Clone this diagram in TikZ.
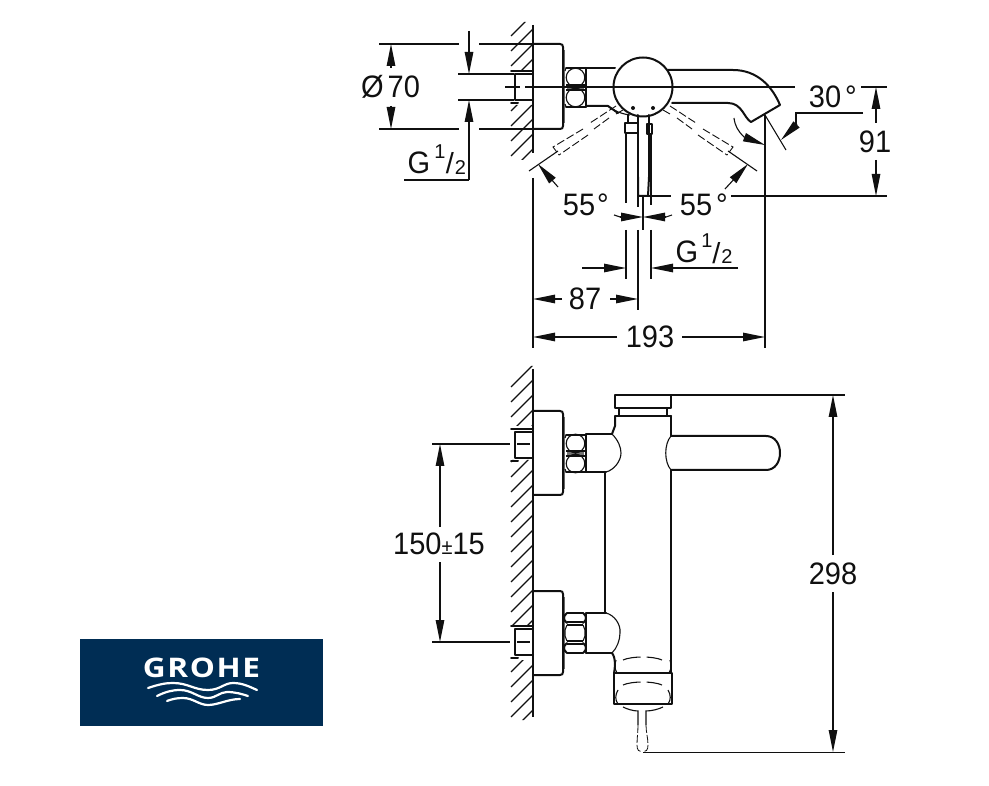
\documentclass[tikz,border=0pt]{standalone}
\usepackage{fontspec}
\setmainfont{Liberation Sans}
\newfontfamily\logofont{Open Sans}
\usetikzlibrary{arrows.meta}
\definecolor{ink}{HTML}{101010}
\definecolor{logoblue}{HTML}{002D54}
\tikzset{
  x=1pt,y=-1pt,
  heavy/.style={line width=2pt,draw=ink,line join=round,line cap=round},
  fine/.style={line width=1.1pt,draw=ink},
  hair/.style={line width=0.8pt,draw=ink},
  dashline/.style={line width=0.9pt,draw=ink,dash pattern=on 8pt off 3pt},
  dimarrow/.style={fine,-{Triangle[length=22pt,width=8.5pt]}},
  label/.style={inner sep=0pt,font=\fontsize{29}{29}\selectfont,text=ink,yscale=1.07,transform shape},
  smallnum/.style={inner sep=0pt,font=\fontsize{20}{20}\selectfont,text=ink},
  slashmark/.style={inner sep=0pt,font=\fontsize{29}{29}\selectfont,text=ink},
  wave/.style={draw=white,line width=2.2pt,line cap=round},
}
% nut seen with two faces; #1 centre, #2 half height
\newcommand{\twofacenut}[2]{%
 \begin{scope}[shift={(0,#1)}]
  \fill[black!55] (567,-2) rectangle (584,2);
  \draw[heavy] (566,-#2) -- (586,-#2) (566,#2) -- (586,#2);
  \draw[fine] (566,-#2) -- (565,-#2+3) (566,#2) -- (565,#2-3);
  \draw[fine] (575.5,-10) circle (9.3) (575.5,10) circle (9.3);
  \draw[fine] (566,-2.5) -- (585,-2.5) (566,2.5) -- (585,2.5);
 \end{scope}}
% nut seen with three faces
\newcommand{\threefacenut}[1]{%
 \begin{scope}[shift={(0,#1)}]
  \draw[heavy] (567,-20) -- (583,-20) (567,20) -- (583,20);
  \draw[heavy] (567,-20) .. controls (563,-17) and (563,-13) .. (567,-10)
     (583,-20) .. controls (587,-17) and (587,-13) .. (583,-10)
     (567,20) .. controls (563,17) and (563,13) .. (567,10)
     (583,20) .. controls (587,17) and (587,13) .. (583,10);
  \draw[fine] (567,-11) -- (583,-11) (567,-8) -- (583,-8) (567,11) -- (583,11) (567,8) -- (583,8);
  \draw[fine] (567,-8) -- (565,-3) -- (565,3) -- (567,8);
  \draw[fine] (583,-8) -- (585,-3) -- (585,3) -- (583,8);
 \end{scope}}
\newcommand{\stubpart}[1]{%
 \begin{scope}[shift={(0,#1)}]
  \draw[heavy] (533,-13) -- (515,-13) -- (515,13) -- (533,13);
  \draw[heavy] (511,-16) -- (533,-16);
  \draw[heavy] (511,16) -- (518,16);
 \end{scope}}
\newcommand{\flange}[2]{%
  \draw[heavy] (533,#1) -- (560,#1) .. controls (562,#1) and (563,#1+1) .. (563,#1+3)
     -- (563,#2-3) .. controls (563,#2-1) and (562,#2) .. (560,#2) -- (533,#2);
  \draw[line width=1.2pt,draw=black!60] (564.5,#1+6) -- (564.5,#2-6);}
\begin{document}
\begin{tikzpicture}
\useasboundingbox (0,0) rectangle (989,786);
\fill[white] (0,0) rectangle (989,786);

% --- hatching, both walls
\begin{scope}
 \clip (505,22) rectangle (534,70) (505,105) rectangle (534,160);
 \foreach \yy in {36,51,...,171} \draw[fine] (511,\yy) -- (533,\yy-22);
\end{scope}
\begin{scope}
 \clip (505,366) rectangle (534,426) (505,460) rectangle (534,626) (505,660) rectangle (534,720);
 \foreach \yy in {387,402,...,732} \draw[fine] (511,\yy) -- (533,\yy-22);
\end{scope}

% --- top view: wall and mounting
\draw[fine] (533,25) -- (533,153) (533,178) -- (533,348);
\flange{44}{129}
\stubpart{87}
\twofacenut{87.5}{19.5}
\draw[fine] (505,87) -- (520,87) (525,87) -- (795,87);

% circle, stem, spout
\draw[heavy] (586,68) -- (615,68);
\draw[heavy] (586,68) -- (586,107);
\draw[heavy] (586,106) -- (608,106) -- (618,113);
\draw[fine] (608,106) .. controls (614,111) and (622,114) .. (630,115);
\draw[heavy] (643,87) circle (29.5);
\fill[ink] (633,108) circle (2) (653,108) circle (2);
\draw[heavy] (668,70) -- (733,70) .. controls (757,70) and (772,86) .. (780,105)
   -- (751,122) .. controls (744,118) and (742,103) .. (728,103) -- (672,103);
% body
\draw[heavy] (628,115) -- (628,123) (638,115) -- (638,177) (649,115) -- (649,177);
\draw[heavy] (638,177) -- (638,196) -- (648,196) -- (649,177);
\draw[heavy] (625,123) rectangle (638,133);
\draw[heavy] (647,124) rectangle (652,134);
\draw[fine] (626,133) -- (626,203) (651,134) -- (651,205) (638,196) -- (638,207);
\draw[fine] (643,196) -- (643,230);

% dashed handles
\draw[dashline] (670,106) -- (696,123) (703,129) -- (733,147) -- (727,155);
\draw[dashline] (663,110) -- (670,114) (677,118) -- (692,129) (698,135) -- (727,155);
\draw[fine] (728,151) -- (757,171);
\draw[dashline] (616,106) -- (590,123) (583,129) -- (553,147) -- (559,155);
\draw[dashline] (623,110) -- (616,114) (609,118) -- (594,129) (588,135) -- (559,155);
\draw[fine] (558,151) -- (529,171);
\coordinate (ra0) at (725,189); \coordinate (ra1) at (748,164);
\coordinate (la0) at (558,187); \coordinate (la1) at (538,164);
\draw[dimarrow] (ra0) -- (ra1);
\draw[dimarrow] (la0) -- (la1);

% top-left dimensions
\draw[fine] (379,44) -- (459,44) (479,44) -- (533,44);
\draw[fine] (379,129) -- (459,129) (479,129) -- (533,129);
\draw[fine] (458,74) -- (514,74) (458,100) -- (514,100);
\coordinate (d1) at (391,68); \coordinate (d2) at (391,44);
\coordinate (d3) at (391,106); \coordinate (d4) at (391,129);
\draw[dimarrow] (d1) -- (d2);
\draw[dimarrow] (d3) -- (d4);
\node[label] (dia) at (390.5,87) {Ø\kern4pt 70};
\coordinate (g1) at (469,31); \coordinate (g2) at (469,74);
\coordinate (g3) at (469,180); \coordinate (g4) at (469,100);
\coordinate (g5) at (404,180);
\draw[dimarrow] (g1) -- (g2);
\draw[dimarrow] (g3) -- (g4);
\draw[fine] (g5) -- (g3);
\node[label] (gA) at (419,163) {G};
\node[smallnum] (gAa) at (440,152) {1};
\node[slashmark] (gAb) at (450,163) {/};
\node[smallnum] (gAc) at (460.5,168) {2};

% angle labels
\node[label] (a55l) at (579,205) {55};
\node[label] (a55ld) at (603,205) {°};
\node[label] (a55r) at (696,205) {55};
\node[label] (a55rd) at (722,205) {°};
\draw[fine] (648,196) -- (671,196) (731,196) -- (887,196);

% central small dims
\coordinate (c1) at (614,215); \coordinate (c2) at (620,217); \coordinate (c3) at (643,217);
\coordinate (c4) at (672,215); \coordinate (c5) at (666,217);
\draw[fine] (c1) -- (c2); \draw[dimarrow] (c2) -- (c3);
\draw[fine] (c4) -- (c5); \draw[dimarrow] (c5) -- (c3);
\draw[fine] (626,230) -- (626,279) (651,230) -- (651,279) (638,230) -- (638,310);
\coordinate (h1) at (582,268); \coordinate (h2) at (626,268);
\coordinate (h3) at (738,268); \coordinate (h4) at (651,268);
\draw[dimarrow] (h1) -- (h2);
\draw[dimarrow] (h3) -- (h4);
\node[label] (gB) at (687,252) {G};
\node[smallnum] (gBa) at (707,241) {1};
\node[slashmark] (gBb) at (716.5,253) {/};
\node[smallnum] (gBc) at (727,257) {2};

% 87
\coordinate (e0) at (562,299); \coordinate (e1) at (533,299);
\coordinate (e2) at (610,299); \coordinate (e3) at (638,299);
\draw[dimarrow] (e0) -- (e1);
\draw[dimarrow] (e2) -- (e3);
\node[label] (n87) at (585,299) {87};
% 193
\coordinate (f0) at (617,337); \coordinate (f1) at (533,337);
\coordinate (f2) at (682,337); \coordinate (f3) at (765,337);
\draw[dimarrow] (f0) -- (f1);
\draw[dimarrow] (f2) -- (f3);
\node[label] (n193) at (650,337) {193};
\draw[fine] (765,115) -- (765,348);

% 30 deg
\node[label] (n30) at (825,97) {30};
\node[label] (n30d) at (851,97) {°};
\draw[fine] (863,113) -- (796,113) -- (796,125);
\coordinate (t0) at (797,124); \coordinate (t1) at (781,140);
\draw[dimarrow] (t0) -- (t1);
\draw[fine] (765,115) -- (786,150);
\draw[fine] (734,118) .. controls (735,126) and (738,131) .. (744,137);
\coordinate (t2) at (744,137); \coordinate (t3) at (765,145);
\draw[dimarrow] (t2) -- (t3);
% 91
\draw[fine] (861,87) -- (887,87);
\coordinate (k0) at (876,123); \coordinate (k1) at (876,87);
\coordinate (k2) at (876,160); \coordinate (k3) at (876,196);
\draw[dimarrow] (k0) -- (k1);
\draw[dimarrow] (k2) -- (k3);
\node[label] (n91) at (875,142) {91};

% --- front view
\draw[fine] (533,369) -- (533,717);
\flange{411}{495}
\flange{591}{675}
\stubpart{445}
\stubpart{642}
\twofacenut{453.5}{18.5}
\threefacenut{633}
% upper stem
\draw[heavy] (586,434) -- (612,434) (586,434) -- (586,472) (586,472) -- (606,472);
\draw[fine] (612,434) .. controls (618,440) and (621,447) .. (621,453) .. controls (621,461) and (614,470) .. (606,472);
% lower stem
\draw[heavy] (586,613) -- (586,653) (586,613) -- (606,613) (586,653) -- (612,653);
\draw[fine] (606,613) .. controls (614,615) and (621,624) .. (620,633) .. controls (620,640) and (617,648) .. (612,653);
% body
\draw[heavy] (605,472) -- (605,613);
\draw[heavy] (671,416) -- (671,436) (671,470) -- (671,673);
\draw[heavy] (615,395) rectangle (671,408);
\draw[heavy] (619,408) -- (619,416) (667,408) -- (667,416);
\draw[heavy] (615,416) -- (671,416);
\draw[heavy] (615,416) -- (615,426) -- (612,434);
% handle
\draw[heavy] (671,436) -- (766,436) .. controls (775,436) and (780,444) .. (780,453)
   .. controls (780,462) and (775,470) .. (766,470) -- (671,470);
\draw[fine] (671,436) .. controls (664,444) and (664,462) .. (671,470);
% bottom
\draw[heavy] (612,653) .. controls (616,658) and (615,668) .. (614,673);
\draw[line width=2.6pt,draw=ink] (614,673) -- (672,673);
\draw[heavy] (614,673) -- (614,704) -- (672,704) -- (672,673);
\draw[fine,dash pattern=on 18pt off 6pt] (623,660) .. controls (632,656) and (653,656) .. (662,660);
\draw[fine,dash pattern=on 18pt off 6pt] (623,685) .. controls (632,681) and (653,681) .. (662,685);
\draw[fine] (617,673) .. controls (614,668) and (615,664) .. (616,660);
\draw[fine] (669,673) .. controls (672,668) and (671,664) .. (670,660);
\draw[fine] (618,690) .. controls (615,695) and (615,700) .. (618,704);
\draw[fine] (668,690) .. controls (671,695) and (671,700) .. (668,704);
\draw[fine] (623,707) .. controls (627,709) and (633,711) .. (638,711) -- (638,725);
\draw[fine] (663,707) .. controls (659,709) and (652,711) .. (646,711) -- (646,725);
\draw[hair,dash pattern=on 8pt off 2pt] (638,725) .. controls (638,732) and (637,738) .. (637,745) .. controls (637,750) and (639,752) .. (642,752);
\draw[hair,dash pattern=on 8pt off 2pt] (646,725) .. controls (646,732) and (648,738) .. (648,745) .. controls (648,750) and (646,752) .. (643,752);

% front dims
\draw[fine] (432,444) -- (510,444) (517,444) -- (530,444);
\draw[fine] (432,642) -- (510,642) (517,642) -- (530,642);
\coordinate (p0) at (440,527); \coordinate (p1) at (440,444);
\coordinate (p2) at (440,562); \coordinate (p3) at (440,642);
\draw[dimarrow] (p0) -- (p1);
\draw[dimarrow] (p2) -- (p3);
\node[label] (n150) at (439,544) {150{\fontsize{20}{20}\selectfont ±}15};
\draw[fine] (671,395) -- (845,395);
\draw[fine] (643,752.5) -- (845,752.5);
\coordinate (q0) at (833,555); \coordinate (q1) at (833,395);
\coordinate (q2) at (833,592); \coordinate (q3) at (833,752);
\draw[dimarrow] (q0) -- (q1);
\draw[dimarrow] (q2) -- (q3);
\node[label] (n298) at (833,574) {298};

% --- logo
\fill[logoblue] (80,639) rectangle (323,726);
\node[inner sep=0pt,text=white,xscale=1.17,transform shape] (brand) at (201.5,667.5)
  {\logofont\fontsize{27}{27}\selectfont\addfontfeature{LetterSpace=5}\bfseries GROHE};
\draw[wave] (148,688) .. controls (160,684) and (166,683) .. (173,683)
   .. controls (188,683) and (194,690) .. (208,690) .. controls (220,690) and (224,683) .. (233,683)
   .. controls (243,683) and (250,687) .. (257,690);
\draw[wave] (157,696) .. controls (165,692) and (172,690) .. (180,690)
   .. controls (192,690) and (198,698) .. (208,698) .. controls (216,698) and (220,692) .. (227,692)
   .. controls (235,692) and (242,694) .. (248,696);
\draw[wave] (167,701) .. controls (172,699) and (177,698) .. (183,698)
   .. controls (193,698) and (199,705) .. (208,705) .. controls (218,705) and (228,699) .. (240,699);
\end{tikzpicture}
\end{document}
